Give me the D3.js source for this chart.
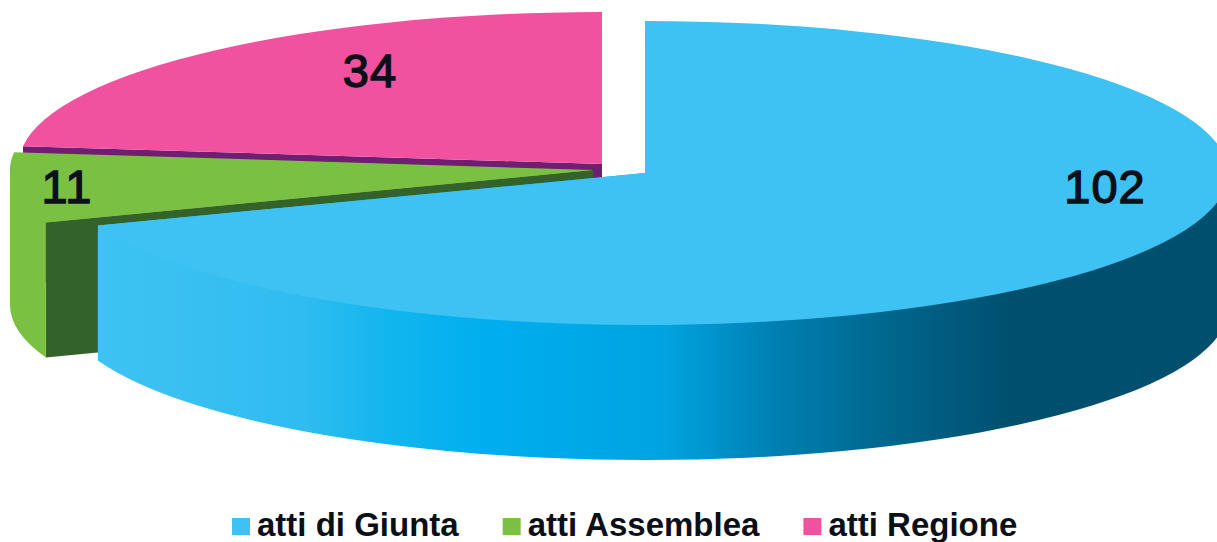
<!DOCTYPE html>
<html>
<head>
<meta charset="utf-8">
<script src="https://cdn.jsdelivr.net/npm/d3@7"></script>
<style>
  html, body { margin: 0; padding: 0; background: #fff; overflow: hidden; }
  svg { display: block; }
  text { font-family: "Liberation Sans", Arial, sans-serif; fill: #0b0f17; }
</style>
</head>
<body>
<div id="chart"></div>
<script>
// data
var categories = ["atti di Giunta", "atti Assemblea", "atti Regione"];
var values = [102, 11, 34];

// colours per slice
var topColors = ["#3dc2f3", "#7ac143", "#f0529f"];
var faceColors = ["#00506f", "#33622b", "#6f1e74"];
var wallGradientStops = [
    [0, "#3dc2f3"], [0.057, "#3bc0f2"], [0.186, "#2fbcf0"], [0.25, "#14b7ee"],
    [0.347, "#00aeef"], [0.507, "#00a3e0"], [0.603, "#0080b3"], [0.70, "#00688f"],
    [0.816, "#004f6f"], [1, "#004f6f"]
];

var width = 1217;
var height = 542;

// pie geometry: each slice is pulled out a bit so it has its own centre
var rx = 583, ry = 152, depth = 135;
var centers = [[645, 173], [593, 170], [602, 164]];
var labelPos = [[1105, 203], [67, 203], [370, 87]];

var svg = d3.select("#chart").append("svg")
    .attr("width", width)
    .attr("height", height);

var grad = svg.append("defs").append("linearGradient")
    .attr("id", "wall")
    .attr("gradientUnits", "userSpaceOnUse")
    .attr("x1", 98).attr("x2", 1217)
    .attr("y1", 0).attr("y2", 0);
grad.selectAll("stop")
    .data(wallGradientStops)
    .enter().append("stop")
    .attr("offset", d => d[0])
    .attr("stop-color", d => d[1]);

var slices = d3.pie().sort(null).value(d => d)(values);
var arc = d3.arc().innerRadius(0).outerRadius(rx);

function rim(c, a) {
    return [c[0] + rx * Math.sin(a), c[1] - ry * Math.cos(a)];
}

// outer wall, only the part between 90 and 270 degrees faces the viewer.
// its top side goes through the centre, under the slice top, so no seam shows on the rim
function wallPath(c, a0, a1) {
    var p = rim(c, a0), q = rim(c, a1);
    return "M" + p + "L" + [p[0], p[1] + depth]
        + "A" + rx + "," + ry + " 0 0 1 " + [q[0], q[1] + depth]
        + "L" + q + "L" + c + "Z";
}

// cut face on the start side of a slice
function facePath(c, a) {
    var p = rim(c, a);
    return "M" + c + "L" + p
        + "L" + [p[0], p[1] + depth]
        + "L" + [c[0], c[1] + depth] + "Z";
}

// back to front: pink, green, blue
[2, 1, 0].forEach(function(i) {
    var s = slices[i], c = centers[i];
    var a0 = Math.max(s.startAngle, Math.PI / 2);
    var a1 = Math.min(s.endAngle, Math.PI * 1.5);

    svg.append("path")
        .attr("d", facePath(c, s.startAngle))
        .attr("fill", faceColors[i]);

    if (a1 > a0) {
        svg.append("path")
            .attr("d", wallPath(c, a0, a1))
            .attr("fill", i == 0 ? "url(#wall)" : topColors[i]);
    }

    svg.append("path")
        .attr("d", arc(s))
        .attr("transform", "translate(" + c + ") scale(1," + (ry / rx) + ")")
        .attr("fill", topColors[i]);
});

svg.selectAll("text.value")
    .data(values)
    .enter().append("text")
    .attr("class", "value")
    .attr("x", (d, i) => labelPos[i][0])
    .attr("y", (d, i) => labelPos[i][1])
    .attr("text-anchor", "middle")
    .attr("font-size", 47)
    .attr("letter-spacing", 1)
    .attr("stroke", "#0b0f17")
    .attr("stroke-width", 1.4)
    .text(d => d);

// legend flows left to right from the first swatch
var legendX = 232;
categories.forEach(function(name, i) {
    svg.append("rect")
        .attr("x", legendX).attr("y", 518)
        .attr("width", 18).attr("height", 17)
        .attr("fill", topColors[i]);
    var t = svg.append("text")
        .attr("x", legendX + 25).attr("y", 536)
        .attr("font-size", 33)
        .attr("font-weight", "bold")
        .text(name);
    legendX += 25 + t.node().getComputedTextLength() + 44;
});
</script>
</body>
</html>
